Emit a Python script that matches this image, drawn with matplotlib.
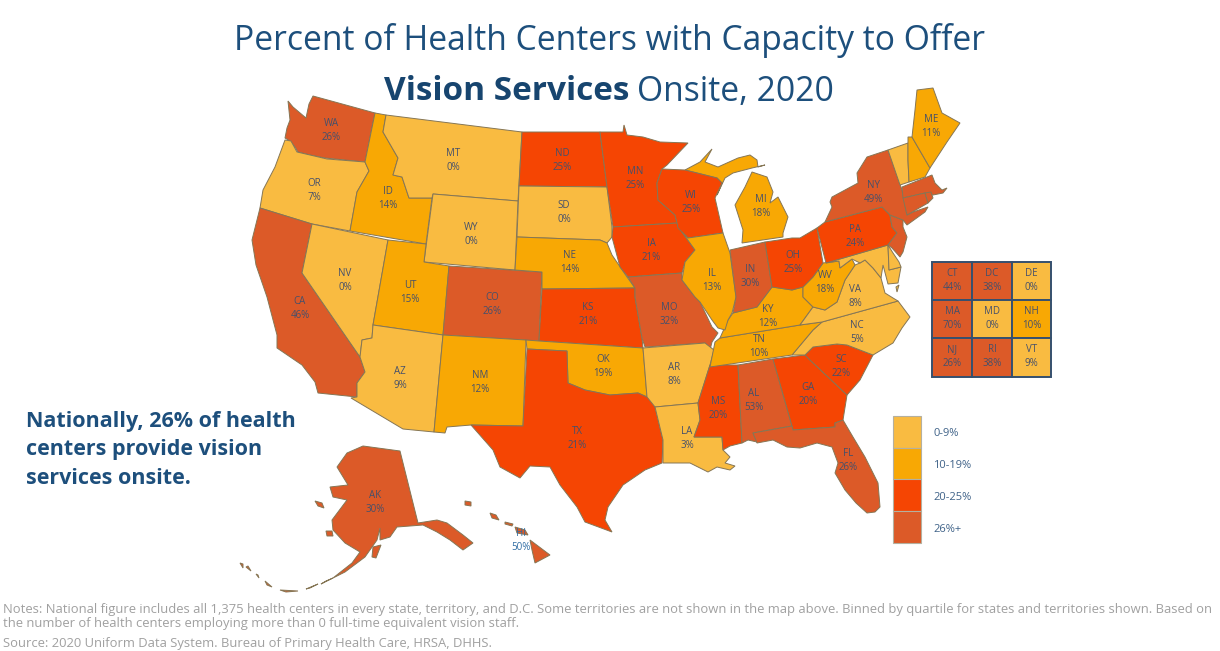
import matplotlib
matplotlib.use('Agg')
import matplotlib.pyplot as plt
from matplotlib.patches import Polygon, Rectangle

plt.rcParams['font.family'] = ['Open Sans', 'DejaVu Sans']

states = ['WA','OR','CA','NV','ID','MT','WY','UT','CO','AZ','NM','ND','SD','NE','KS','OK','TX',
          'MN','IA','MO','AR','LA','WI','IL','IN','MI','OH','KY','TN','MS','AL','GA','SC','FL',
          'PA','NY','ME','WV','VA','NC','AK','HI']
pct = [26,7,46,0,14,0,0,15,26,9,12,25,0,14,21,19,21,
       25,21,32,8,3,25,13,30,18,25,12,10,20,53,20,22,26,
       24,49,11,18,8,5,30,50]

inset_states = ['CT','DC','DE','MA','MD','NH','NJ','RI','VT']
inset_pct = [44,38,0,70,0,10,26,38,9]

legend_labels = ['0-9%','10-19%','20-25%','26%+']
bin_colors = ['#F9BB41','#F8A804','#F54503','#DC5A28']

# outlines, in pixels
shapes = {
 'WA':[[(288,101),(293,107),(306,118),(309,104),(313,96),(375,113),(365,162),(345,160),(325,158),(310,155),(298,152),(295,147),(290,141),(285,138),(287,128),(290,120)]],
 'OR':[[(285,140),(291,141),(297,152),(310,155),(327,159),(365,162),(369,171),(357,192),(350,231),(312,224),(260,208),(263,190),(275,167)]],
 'CA':[[(260,208),(312,224),(302,273),(360,357),(365,372),(357,383),(357,397),(318,393),(315,382),(302,365),(277,348),(277,335),(267,297),(256,265),(252,240)]],
 'NV':[[(312,224),(388,240),(373,325),(372,338),(362,340),(360,357),(302,273)]],
 'ID':[[(375,113),(386,115),(383,132),(398,158),(393,175),(402,177),(409,198),(432,198),(426,244),(350,231),(357,192),(369,171),(365,162)]],
 'MT':[[(386,115),(522,132),(518,201),(433,194),(432,198),(409,198),(402,177),(393,175),(398,158),(383,132)]],
 'WY':[[(433,194),(518,201),(515,270),(424,262)]],
 'UT':[[(388,240),(426,244),(424,262),(449,266),(443,335),(373,325)]],
 'CO':[[(449,266),(542,272),(539,341),(443,335)]],
 'AZ':[[(373,325),(443,335),(434,432),(403,429),(351,398),(357,397),(357,383),(365,372),(360,357),(362,340),(372,338)]],
 'NM':[[(443,335),(526,340),(523,426),(471,425),(447,427),(445,433),(434,432)]],
 'ND':[[(522,132),(600,132),(607,187),(519,186)]],
 'SD':[[(519,186),(607,187),(612,227),(612,237),(607,243),(600,240),(517,237)]],
 'NE':[[(517,237),(600,240),(607,243),(612,255),(627,277),(635,288),(542,289),(542,272),(515,270)]],
 'KS':[[(542,289),(635,288),(635,297),(642,338),(643,348),(539,341)]],
 'OK':[[(526,340),(539,341),(643,348),(647,397),(638,393),(610,395),(585,390),(568,383),(567,351),(527,349)]],
 'TX':[[(527,349),(567,351),(568,383),(585,390),(610,395),(638,393),(647,397),(653,398),(655,407),(663,440),(662,463),(645,470),(623,485),(608,507),(605,520),(612,532),(585,522),(577,507),(560,485),(550,467),(530,466),(520,478),(500,467),(493,450),(471,425),(523,426)]],
 'MN':[[(600,132),(623,132),(624,125),(627,135),(643,137),(660,142),(688,143),(667,165),(662,169),(657,183),(658,200),(675,215),(677,223),(613,227),(607,187)]],
 'IA':[[(613,227),(677,223),(682,232),(695,250),(685,262),(682,273),(628,277),(620,267),(612,237)]],
 'MO':[[(628,277),(682,273),(682,280),(695,297),(700,302),(712,327),(718,333),(712,342),(710,350),(705,343),(645,347),(642,338),(635,297),(635,288)]],
 'AR':[[(643,348),(705,343),(714,350),(710,365),(698,403),(655,407),(647,397)]],
 'LA':[[(655,407),(698,403),(700,420),(694,437),(722,437),(723,450),(730,457),(725,463),(735,466),(730,470),(717,467),(708,472),(690,463),(663,463),(663,440)]],
 'MS':[[(710,365),(738,365),(742,443),(730,446),(723,450),(722,437),(694,437),(700,420),(698,403)]],
 'AL':[[(738,365),(773,359),(792,426),(753,433),(757,442),(748,440),(742,443)]],
 'GA':[[(773,359),(805,355),(810,360),(847,395),(843,420),(835,423),(835,427),(793,430),(792,426)]],
 'SC':[[(805,355),(813,347),(837,344),(847,345),(873,355),(860,380),(847,395),(810,360)]],
 'FL':[[(753,433),(792,426),(793,430),(835,427),(835,423),(843,420),(853,437),(865,457),(878,483),(880,507),(875,512),(867,513),(856,503),(845,490),(835,473),(838,463),(832,447),(817,443),(800,448),(787,447),(773,440),(757,443)]],
 'NC':[[(822,322),(898,301),(910,317),(902,328),(893,343),(873,355),(847,345),(837,344),(813,347),(805,355),(792,355),(813,330)]],
 'TN':[[(720,338),(800,325),(822,322),(813,330),(792,355),(710,367),(715,342)]],
 'KY':[[(720,338),(728,320),(733,313),(757,307),(772,287),(792,290),(803,287),(803,297),(813,307),(800,325)]],
 'VA':[[(800,325),(813,307),(825,310),(837,302),(845,280),(855,265),(860,263),(865,260),(873,268),(881,278),(885,293),(893,298),(898,301),(822,322)],
       [(896,287),(899,285),(897,292)]],
 'WV':[[(803,297),(803,287),(813,277),(823,263),(839,261),(840,268),(852,259),(855,265),(845,280),(837,302),(825,310),(813,307)]],
 'MD':[[(826,263),(888,245),(889,270),(901,267),(898,283),(888,284),(883,265),(881,278),(873,268),(865,260),(860,263),(852,259),(840,268),(839,261)]],
 'DE':[[(888,245),(893,253),(899,262),(901,267),(889,270)]],
 'PA':[[(817,228),(825,222),(882,207),(890,215),(892,227),(897,233),(888,245),(826,263)]],
 'NJ':[[(890,215),(903,220),(903,227),(907,237),(903,252),(900,257),(892,248),(888,245),(897,233),(892,227)]],
 'NY':[[(888,150),(895,170),(902,190),(907,215),(913,212),(928,207),(925,212),(907,225),(903,220),(890,215),(882,207),(825,222),(832,207),(830,202),(832,197),(858,183),(857,173),(867,157)]],
 'VT':[[(888,150),(908,143),(908,160),(909,182),(900,185)]],
 'NH':[[(908,137),(912,137),(930,168),(925,177),(909,182),(908,160)]],
 'ME':[[(917,90),(933,88),(942,113),(960,123),(947,142),(930,168),(912,137),(915,110)]],
 'MA':[[(902,187),(932,175),(935,183),(942,190),(947,188),(943,193),(933,195),(925,193),(903,198)]],
 'CT':[[(903,198),(925,193),(928,203),(907,215)]],
 'RI':[[(925,193),(931,192),(933,198),(928,203)]],
 'MI':[[(685,170),(700,162),(712,149),(705,162),(718,167),(738,158),(750,155),(757,160),(758,167),(765,165),(752,168),(733,173),(725,178),(717,195),(722,183),(717,178),(693,172)],
       [(752,172),(767,177),(773,192),(770,203),(778,197),(788,217),(783,233),(783,237),(742,243),(743,230),(735,205),(745,187)]],
 'WI':[[(662,169),(685,170),(693,172),(717,178),(722,183),(715,198),(723,233),(688,238),(678,228),(677,223),(675,215),(658,200),(657,183)]],
 'IL':[[(688,238),(723,233),(730,253),(736,297),(732,313),(728,320),(725,330),(718,328),(712,320),(700,302),(695,297),(682,280),(685,262),(695,250),(682,232)]],
 'IN':[[(730,250),(765,242),(772,287),(757,307),(733,313),(736,297)]],
 'OH':[[(765,242),(792,238),(800,238),(817,228),(823,263),(813,277),(803,287),(792,290),(772,287)]],
 'AK':[[(363,446),(400,451),(418,523),(437,520),(447,523),(463,535),(473,543),(463,550),(450,540),(437,532),(423,525),(397,527),(390,537),(380,540),(380,528),(377,540),(365,557),(345,572),(333,578),(352,563),(360,552),(345,543),(333,530),(332,520),(347,500),(333,497),(330,487),(348,485),(337,467),(347,453)],
       [(373,547),(381,545),(376,558),(372,557)],[(326,531),(332,531),(333,536),(327,536)],[(315,501),(322,503),(324,508),(318,506)],
       [(333,578),(326,581),(321,584)],[(318,584),(310,588),(306,589)],[(298,591),(286,592),(280,590)],[(272,587),(267,585),(265,581)],
       [(259,578),(256,574),(258,575)],[(251,571),(246,567),(248,566)],[(243,568),(240,563),(243,564)]],
 'HI':[[(530,540),(550,555),(535,563),(532,550)],[(515,527),(525,530),(528,535),(517,533)],[(505,522),(513,524),(512,526),(505,524)],
       [(490,513),(496,515),(499,520),(492,518)],[(465,501),(471,502),(471,506),(465,505)]],
}

label_pos = {
 'WA':(331,124),'OR':(314,183),'CA':(300,301),'NV':(345,273),'ID':(388,192),'MT':(453,154),'WY':(471,227),
 'UT':(410,285),'CO':(492,298),'AZ':(400,371),'NM':(480,376),'ND':(562,154),'SD':(564,206),'NE':(570,256),
 'KS':(588,308),'OK':(603,359),'TX':(577,431),'MN':(635,172),'IA':(651,244),'MO':(669,307),'AR':(674,367),
 'LA':(687,432),'WI':(691,196),'IL':(712,273),'IN':(750,269),'MI':(761,200),'OH':(793,255),'KY':(768,309),
 'TN':(759,340),'MS':(718,401),'AL':(754,394),'GA':(808,388),'SC':(841,359),'FL':(848,454),'PA':(855,229),
 'NY':(873,186),'ME':(931,119),'WV':(825,276),'VA':(855,290),'NC':(857,326),'AK':(375,496),'HI':(521,533),
}

title_color = '#1D4F7C'
label_color = '#45506B'


def bin_color(v):
    if v < 10:
        return bin_colors[0]
    if v < 20:
        return bin_colors[1]
    if v < 26:
        return bin_colors[2]
    return bin_colors[3]


fig = plt.figure(figsize=(12.2, 6.51), dpi=100)
ax = fig.add_axes([0, 0, 1, 1])
ax.set_xlim(0, 1220)
ax.set_ylim(651, 0)
ax.axis('off')

colors = dict(zip(states + inset_states, [bin_color(v) for v in pct + inset_pct]))
values = dict(zip(states, pct))

for st, parts in shapes.items():
    for part in parts:
        ax.add_patch(Polygon(part, closed=True, fc=colors[st], ec='#857655', lw=0.7, zorder=2))

for st in states:
    x, y = label_pos[st]
    c = '#2F6CA3' if st == 'HI' else label_color
    ax.text(x, y, st, ha='center', va='center', fontsize=7, color=c, zorder=3)
    ax.text(x, y + 14, '%d%%' % values[st], ha='center', va='center', fontsize=7, color=c, zorder=3)

# small state grid
grid_x = [932, 972, 1012, 1051]
grid_y = [262, 300, 338, 377]
for i, st in enumerate(inset_states):
    r, c = divmod(i, 3)
    ax.add_patch(Rectangle((grid_x[c], grid_y[r]), grid_x[c + 1] - grid_x[c], grid_y[r + 1] - grid_y[r],
                           fc=colors[st], ec='#35506F', lw=1.4, zorder=2))
    xm = (grid_x[c] + grid_x[c + 1]) / 2
    ax.text(xm, grid_y[r] + 12, st, ha='center', va='center', fontsize=7, color=label_color, zorder=3)
    ax.text(xm, grid_y[r] + 25, '%d%%' % inset_pct[i], ha='center', va='center', fontsize=7, color=label_color, zorder=3)

# legend
leg_y = [416, 448, 479, 511, 543]
for i, lab in enumerate(legend_labels):
    ax.add_patch(Rectangle((893, leg_y[i]), 28, leg_y[i + 1] - leg_y[i], fc=bin_colors[i], ec='#B5B09F', lw=0.8, zorder=2))
    ax.text(933, (leg_y[i] + leg_y[i + 1]) / 2 + 2, lab, ha='left', va='center', fontsize=8, color='#3F6288')

# titles
ax.text(609, 40, 'Percent of Health Centers with Capacity to Offer', ha='center', va='center',
        fontsize=24.2, color=title_color)
ax.text(384, 92, 'Vision Services', ha='left', va='center', fontsize=24, fontweight='bold', color='#17456F')
ax.text(637, 92, 'Onsite, 2020', ha='left', va='center', fontsize=24.2, color=title_color)

ax.text(26, 422, 'Nationally, 26% of health', ha='left', va='center', fontsize=15.5, fontweight='bold', color=title_color)
ax.text(26, 450, 'centers provide vision', ha='left', va='center', fontsize=15.5, fontweight='bold', color=title_color)
ax.text(26, 478, 'services onsite.', ha='left', va='center', fontsize=15.5, fontweight='bold', color=title_color)

# notes
notes = ['Notes: National figure includes all 1,375 health centers in every state, territory, and D.C. Some territories are not shown in the map above. Binned by quartile for states and territories shown. Based on',
         'the number of health centers employing more than 0 full-time equivalent vision staff.',
         'Source: 2020 Uniform Data System. Bureau of Primary Health Care, HRSA, DHHS.']
for y, line in zip([609, 623, 643], notes):
    ax.text(3, y, line, ha='left', va='center', fontsize=9.4, color='#A0A0A0')

fig.savefig('out.png', dpi=100)
